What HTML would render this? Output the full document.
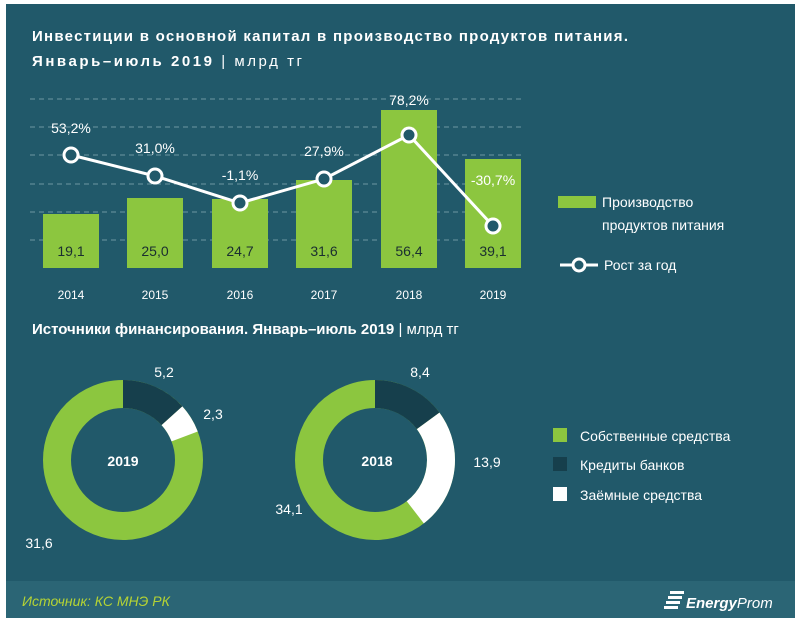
<!DOCTYPE html>
<html><head><meta charset="utf-8"><style>
html,body{margin:0;padding:0;background:#fff;}
svg{display:block;font-family:"Liberation Sans",sans-serif;}
</style></head><body>
<svg width="800" height="622" viewBox="0 0 800 622">
<rect x="0" y="0" width="800" height="622" fill="#fff"/>
<rect x="6" y="4" width="789" height="614" fill="#21596a"/>
<rect x="6" y="581" width="789" height="37" fill="#2b6575"/>
<g fill="#fff" font-weight="bold" font-size="15">
<text x="32" y="41" textLength="596" lengthAdjust="spacing">Инвестиции  в основной  капитал  в производство  продуктов  питания.</text>
<text x="32" y="66" textLength="270" lengthAdjust="spacing">Январь–июль  2019 <tspan font-weight="normal">| млрд тг</tspan></text>
<text x="32" y="334">Источники  финансирования.  Январь–июль  2019 <tspan font-weight="normal">| млрд тг</tspan></text>
</g>
<g stroke="#6d97a3" stroke-width="1" stroke-dasharray="5,4">
<line x1="30" x2="525" y1="99" y2="99"/><line x1="30" x2="525" y1="127" y2="127"/>
<line x1="30" x2="525" y1="155" y2="155"/><line x1="30" x2="525" y1="184" y2="184"/>
<line x1="30" x2="525" y1="212" y2="212"/><line x1="30" x2="525" y1="240" y2="240"/>
</g>
<g fill="#8cc63f">
<rect x="43" y="214" width="56" height="54"/>
<rect x="127" y="198" width="56" height="70"/>
<rect x="212" y="199" width="56" height="69"/>
<rect x="296" y="180" width="56" height="88"/>
<rect x="381" y="110" width="56" height="158"/>
<rect x="465" y="159" width="56" height="109"/>
</g>
<g fill="#1a2e30" font-size="14" text-anchor="middle">
<text x="71" y="256">19,1</text><text x="155" y="256">25,0</text><text x="240" y="256">24,7</text>
<text x="324" y="256">31,6</text><text x="409" y="256">56,4</text><text x="493" y="256">39,1</text>
</g>
<g fill="#fff" font-size="12" text-anchor="middle">
<text x="71" y="299">2014</text><text x="155" y="299">2015</text><text x="240" y="299">2016</text>
<text x="324" y="299">2017</text><text x="409" y="299">2018</text><text x="493" y="299">2019</text>
</g>
<polyline points="71,155 155,176 240,203 324,179 409,135 493,226" fill="none" stroke="#fff" stroke-width="3"/>
<g fill="#21596a" stroke="#fff" stroke-width="3">
<circle cx="71" cy="155" r="7"/><circle cx="155" cy="176" r="7"/><circle cx="240" cy="203" r="7"/>
<circle cx="324" cy="179" r="7"/><circle cx="409" cy="135" r="7"/><circle cx="493" cy="226" r="7"/>
</g>
<g fill="#fff" font-size="14" text-anchor="middle">
<text x="71" y="133">53,2%</text><text x="155" y="153">31,0%</text><text x="240" y="180">-1,1%</text>
<text x="324" y="156">27,9%</text><text x="409" y="105">78,2%</text><text x="493" y="185">-30,7%</text>
</g>
<rect x="558" y="196" width="38" height="12" fill="#8cc63f"/>
<g fill="#fff" font-size="14">
<text x="602" y="207">Производство</text><text x="602" y="230">продуктов питания</text>
<text x="604" y="270">Рост за год</text>
</g>
<line x1="560" x2="598" y1="265" y2="265" stroke="#fff" stroke-width="3"/>
<circle cx="579" cy="265" r="6" fill="#21596a" stroke="#fff" stroke-width="3"/>
<g fill="none" stroke-width="28" transform="rotate(-90 123 460)">
<circle cx="123" cy="460" r="66" stroke="#8cc63f"/>
<circle cx="123" cy="460" r="66" stroke="#163f4c" stroke-dasharray="55.15 500"/>
<circle cx="123" cy="460" r="66" stroke="#fff" stroke-dasharray="0 55.15 24.39 500"/>
</g>
<g fill="none" stroke-width="28" transform="rotate(-90 375 460)">
<circle cx="375" cy="460" r="66" stroke="#8cc63f"/>
<circle cx="375" cy="460" r="66" stroke="#163f4c" stroke-dasharray="61.76 500"/>
<circle cx="375" cy="460" r="66" stroke="#fff" stroke-dasharray="0 61.76 102.2 500"/>
</g>
<g fill="#fff" font-size="14" text-anchor="middle">
<text x="123" y="466" font-weight="bold">2019</text><text x="377" y="466" font-weight="bold">2018</text>
<text x="164" y="377">5,2</text><text x="213" y="419">2,3</text><text x="39" y="548">31,6</text>
<text x="420" y="377">8,4</text><text x="487" y="467">13,9</text><text x="289" y="514">34,1</text>
</g>
<rect x="553" y="428" width="14" height="14" fill="#8cc63f"/>
<rect x="553" y="457" width="14" height="14" fill="#163f4c"/>
<rect x="553" y="487" width="14" height="14" fill="#fff"/>
<g fill="#fff" font-size="14">
<text x="580" y="441">Собственные средства</text>
<text x="580" y="470">Кредиты банков</text>
<text x="580" y="500">Заёмные средства</text>
</g>
<text x="22" y="606" fill="#b5d334" font-size="14" font-style="italic">Источник: КС МНЭ РК</text>
<g fill="#fff"><rect x="670" y="591" width="14" height="3"/><rect x="668" y="596" width="14" height="3"/><rect x="666" y="601" width="14" height="3"/><rect x="664" y="606" width="14" height="3"/></g>
<text x="686" y="608" fill="#fff" font-size="15" font-style="italic"><tspan font-weight="bold">Energy</tspan>Prom</text>
</svg>
</body></html>
